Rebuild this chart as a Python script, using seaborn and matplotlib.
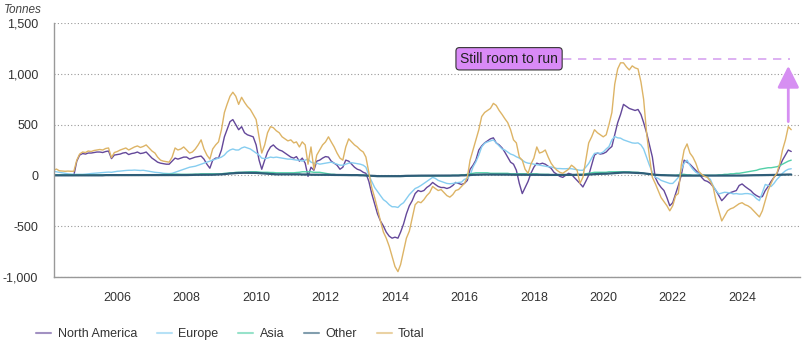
import pandas as pd
import matplotlib.pyplot as plt
import matplotlib.dates as mdates
from matplotlib.lines import Line2D
from matplotlib.ticker import FuncFormatter
import seaborn as sns

# monthly points, rolling change in holdings (tonnes)
dates = pd.date_range('2004-03-01', '2025-06-01', freq='MS')

north_america = [
    0, 0, 0, 0, 0, 0, 0, 0, 140, 200,  # 2004 (Mar-Dec)
    215, 210, 220, 220, 225, 230, 230, 225, 235, 240, 165, 200,  # 2005
    205, 210, 220, 225, 205, 215, 220, 230, 215, 220, 230, 200,  # 2006
    170, 150, 130, 120, 115, 110, 110, 140, 170, 160, 170, 180,  # 2007
    180, 160, 170, 180, 185, 190, 160, 110, 70, 150, 170, 170,  # 2008
    250, 380, 450, 530, 550, 500, 450, 480, 420, 400, 390, 380,  # 2009
    300, 150, 60, 150, 230, 280, 300, 270, 250, 240, 220, 200,  # 2010
    180, 170, 185, 140, 170, 120, -10, 80, 50, 140, 150, 170,  # 2011
    185, 180, 140, 120, 100, 60, 80, 150, 140, 110, 80, 60,  # 2012
    50, 30, 20, -60, -180, -280, -380, -450, -500, -560, -600, -620,  # 2013
    -610, -620, -560, -480, -380, -300, -250, -180, -150, -160, -150, -120,  # 2014
    -100, -70, -90, -110, -120, -120, -130, -120, -100, -70, -80, -90,  # 2015
    -80, -50, 60, 100, 150, 250, 290, 320, 340, 360, 370, 320,  # 2016
    300, 270, 230, 180, 130, 110, 50, -80, -180, -120, -60, 20,  # 2017
    80, 120, 110, 120, 110, 90, 70, 30, 10, -10, -20, 0,  # 2018
    20, 10, -20, -50, -80, -115, -60, 0, 100, 200, 220, 210,  # 2019
    215, 230, 260, 285, 400, 520, 600, 700, 680, 660, 650, 640,  # 2020
    650, 600, 520, 420, 300, 180, -20, -80, -120, -150, -220, -300,  # 2021
    -270, -180, -100, 0, 150, 130, 110, 80, 50, 20, -20, -50,  # 2022
    -60, -80, -110, -150, -200, -250, -220, -185, -170, -160, -150, -100,  # 2023
    -85, -110, -130, -150, -180, -200, -215, -210, -150, -110, -60, -20,  # 2024
    15, 90, 150, 200, 250, 235,  # 2025 (Jan-Jun)
]

europe = [
    40, 35, 30, 25, 20, 15, 12, 10, 10, 10,
    10, 12, 15, 18, 20, 22, 25, 28, 30, 32, 30, 35,
    40, 42, 45, 48, 50, 50, 52, 50, 48, 50, 45, 40,
    35, 30, 28, 25, 20, 18, 17, 20, 30, 40, 50, 60,
    70, 80, 85, 90, 100, 110, 120, 130, 140, 150, 160, 170,
    180, 200, 230, 250, 260, 250, 250, 270, 280, 270, 260, 240,
    220, 200, 170, 165, 170, 180, 175, 180, 175, 170, 165, 160,
    160, 155, 150, 150, 140, 150, 160, 130, 120, 120, 110, 115,
    120, 125, 130, 120, 110, 100, 100, 110, 120, 125, 120, 115,
    110, 100, 80, 0, -60, -120, -160, -200, -240, -260, -290, -310,
    -310, -317, -290, -270, -230, -190, -160, -130, -117, -100, -80, -60,
    -40, -20, -30, -50, -60, -70, -80, -83, -80, -75, -70, -67,
    -40, -30, 0, 83, 133, 200, 280, 317, 330, 340, 350, 320,
    290, 260, 250, 230, 210, 200, 183, 170, 150, 130, 120, 117,
    110, 105, 100, 95, 90, 85, 83, 75, 67, 67, 65, 65,
    67, 65, 60, 55, 50, 50, 80, 117, 170, 217, 220, 217,
    230, 260, 283, 350, 383, 370, 367, 350, 340, 330, 320, 317,
    320, 300, 260, 180, 100, 30, -17, -30, -50, -60, -70, -80,
    -80, -50, -20, 50, 120, 150, 100, 60, 30, 17, 10, 0,
    -17, -40, -100, -150, -183, -175, -167, -170, -175, -183, -180, -185,
    -185, -180, -180, -185, -200, -230, -250, -170, -90, -100, -110, -80,
    -40, -10, 20, 45, 60, 65,
]

asia = [
    5, 5, 5, 5, 5, 5, 5, 5, 5, 5,
    5, 5, 5, 5, 5, 5, 5, 5, 5, 5, 5, 5,
    5, 5, 5, 5, 5, 5, 5, 5, 5, 5, 5, 5,
    5, 5, 5, 8, 10, 10, 10, 12, 12, 12, 10, 10,
    10, 10, 10, 12, 12, 15, 15, 15, 15, 15, 15, 15,
    15, 20, 20, 25, 25, 30, 30, 30, 32, 35, 35, 35,
    35, 33, 30, 30, 30, 28, 28, 25, 25, 25, 25, 25,
    25, 25, 28, 30, 35, 35, 35, 35, 30, 30, 30, 25,
    20, 15, 10, 10, 5, 5, 5, 5, 5, 5, 5, 5,
    5, 0, 0, -5, -5, -10, -10, -10, -10, -10, -10, -10,
    -10, -10, -10, -10, -8, -5, -5, -5, -5, -5, -5, -5,
    -5, -5, -5, -5, -5, -5, -5, -5, 0, 0, 0, 5,
    5, 10, 15, 20, 25, 25, 25, 25, 25, 20, 20, 20,
    20, 20, 20, 20, 15, 15, 15, 15, 15, 15, 15, 15,
    15, 15, 10, 10, 10, 10, 5, 5, 5, 5, 5, 5,
    5, 5, 5, 10, 10, 10, 15, 20, 25, 30, 30, 30,
    30, 30, 35, 35, 35, 35, 35, 35, 35, 35, 30, 30,
    30, 25, 20, 15, 10, 10, 5, 5, 5, 5, 0, 0,
    0, 0, 5, 10, 10, 5, 5, 0, 0, 0, 0, 0,
    0, 0, 0, 0, 5, 5, 10, 10, 15, 15, 20, 20,
    25, 30, 35, 40, 45, 50, 60, 65, 70, 75, 75, 80,
    85, 95, 110, 125, 140, 150,
]

other = [
    0, 0, 0, 0, 0, 0, 0, 0, 0, 0,
    0, 0, 0, 0, 0, 0, 0, 0, 2, 2, 2, 2,
    2, 2, 3, 3, 3, 3, 3, 3, 3, 3, 3, 3,
    2, 2, 2, 2, 2, 2, 2, 2, 3, 3, 3, 3,
    3, 4, 4, 5, 5, 5, 5, 5, 6, 6, 7, 8,
    10, 12, 15, 18, 20, 22, 24, 25, 25, 25, 25, 25,
    24, 22, 20, 18, 16, 14, 12, 10, 10, 10, 10, 10,
    10, 10, 10, 10, 8, 8, 8, 6, 6, 6, 5, 5,
    5, 5, 4, 4, 4, 3, 3, 3, 2, 2, 2, 2,
    0, 0, -2, -3, -5, -6, -8, -8, -8, -8, -8, -8,
    -8, -8, -8, -6, -5, -5, -4, -4, -3, -3, -3, -2,
    -2, -2, -2, -2, -2, -2, -2, -2, -2, -2, -2, 0,
    0, 2, 3, 5, 6, 8, 8, 8, 8, 8, 8, 8,
    8, 8, 7, 7, 6, 6, 6, 5, 5, 5, 5, 5,
    5, 5, 5, 4, 4, 4, 4, 3, 3, 3, 3, 3,
    3, 3, 3, 3, 3, 5, 6, 8, 10, 12, 14, 15,
    15, 16, 18, 20, 22, 24, 26, 28, 28, 27, 26, 25,
    24, 22, 20, 16, 12, 8, 5, 3, 2, 1, 0, 0,
    -2, -3, -3, -3, -2, -2, -2, -2, -2, -2, -2, -2,
    -2, -3, -3, -4, -4, -4, -4, -3, -3, -3, -3, -2,
    -2, -1, 0, 0, 1, 1, 2, 2, 3, 3, 3, 4,
    5, 6, 7, 8, 8, 8,
]

total = [
    50, 62, 45, 42, 40, 42, 40, 40, 150, 210,
    230, 225, 240, 235, 245, 250, 255, 250, 265, 270, 175, 225,
    235, 250, 260, 270, 250, 265, 280, 290, 275, 285, 300, 270,
    240, 220, 180, 150, 140, 135, 130, 180, 270, 250, 260, 280,
    250, 220, 230, 260, 300, 350, 260, 200, 160, 260, 300, 330,
    450, 620, 700, 780, 820, 780, 700, 770, 720, 680, 650, 600,
    550, 380, 220, 300, 420, 480, 470, 440, 420, 380, 360, 340,
    350, 320, 330, 280, 330, 300, 110, 280, 60, 200, 250, 300,
    330, 380, 330, 280, 220, 170, 150, 280, 360, 330, 300, 280,
    250, 230, 180, 30, -120, -220, -330, -450, -560, -620, -700, -800,
    -900, -950, -880, -750, -620, -550, -420, -290, -260, -270, -240, -200,
    -170, -110, -130, -150, -140, -170, -200, -215, -190, -150, -140, -110,
    -80, -20, 150, 250, 350, 450, 580, 620, 640, 660, 710, 690,
    640, 600, 560, 520, 450, 350, 320, 180, 150, 60, 20, 110,
    170, 280, 220, 230, 250, 180, 120, 80, 50, 30, 20, 40,
    60, 100, 80, 50, -80, -20, 150, 320, 380, 450, 420, 400,
    380, 400, 500, 620, 900, 1050, 1110, 1110, 1070, 1040, 1080, 1060,
    1050, 920, 750, 420, 180, -20, -80, -150, -220, -260, -300, -350,
    -300, -200, -180, 100, 250, 310, 220, 180, 120, 40, 10, -10,
    -20, -60, -110, -250, -350, -450, -400, -350, -330, -320, -300, -280,
    -270, -290, -300, -320, -350, -380, -410, -350, -250, -150, -80, -20,
    20, 120, 250, 350, 480, 450,
]

regions = ['North America', 'Europe', 'Asia', 'Other', 'Total']
colors = ['#64489a', '#86cdf0', '#52d0a8', '#2f5d78', '#ddb466']
target = 1150  # "still room to run" level

df = pd.DataFrame({'date': dates, 'North America': north_america, 'Europe': europe,
                   'Asia': asia, 'Other': other, 'Total': total})
long_df = df.melt(id_vars='date', var_name='region', value_name='tonnes')

sns.set_theme(style='white')
plt.rcParams['font.family'] = ['Liberation Sans', 'DejaVu Sans']

fig, ax = plt.subplots(figsize=(8.07, 3.51), dpi=100)
fig.subplots_adjust(left=0.0663, right=0.9913, top=0.9336, bottom=0.2117)

sns.lineplot(data=long_df, x='date', y='tonnes', hue='region', hue_order=regions,
             palette=colors, linewidth=1, legend=False, ax=ax)
ax.lines[3].set_linewidth(1.6)

ax.set_ylim(-1000, 1500)
ax.set_yticks([-1000, -500, 0, 500, 1000, 1500])
ax.yaxis.set_major_formatter(FuncFormatter(lambda v, p: f'{v:,.0f}'))
ax.set_xlim(pd.Timestamp('2004-03-01'), pd.Timestamp('2025-09-01'))
ax.xaxis.set_major_locator(mdates.YearLocator(2))
ax.xaxis.set_major_formatter(mdates.DateFormatter('%Y'))
ax.set_xlabel('')
ax.set_ylabel('')

ax.yaxis.grid(True, linestyle=(0, (1, 2)), color='#999999', linewidth=0.8)
ax.set_axisbelow(True)
sns.despine(ax=ax)
for s in ['left', 'bottom']:
    ax.spines[s].set_color('#999999')
    ax.spines[s].set_linewidth(1)
ax.tick_params(axis='x', length=5, color='#999999', labelsize=9, labelcolor='#333333', pad=6)
ax.tick_params(axis='y', length=0, labelsize=9, labelcolor='#333333', pad=11)

fig.text(0.005, 0.9715, 'Tonnes', style='italic', fontsize=8.5, color='#444444', va='center')

# annotation
ax.text(pd.Timestamp('2017-04-15'), target, 'Still room to run', ha='center', va='center',
        fontsize=10, color='#222222',
        bbox=dict(boxstyle='round,pad=0.3,rounding_size=0.25', fc='#d98af7', ec='#333333', lw=0.8))
ax.plot([pd.Timestamp('2018-11-01'), pd.Timestamp('2025-05-15')], [target, target],
        linestyle=(0, (5, 4)), color='#d7a3f0', linewidth=1.2)
ax.annotate('', xy=(pd.Timestamp('2025-05-01'), 1080), xytext=(pd.Timestamp('2025-05-01'), 530),
            arrowprops=dict(arrowstyle='-|>,head_width=0.55,head_length=1.1', color='#d68ff2',
                            lw=2, shrinkA=0, shrinkB=0))

handles = [Line2D([0], [0], color=c, lw=1.5, alpha=0.6) for c in colors]
fig.legend(handles, regions, loc='center left', bbox_to_anchor=(0.031, 0.048), ncol=5,
           frameon=False, fontsize=9, handlelength=1.2, handletextpad=0.5,
           columnspacing=1.6, labelcolor='#333333')

fig.savefig('out.png', dpi=100)
